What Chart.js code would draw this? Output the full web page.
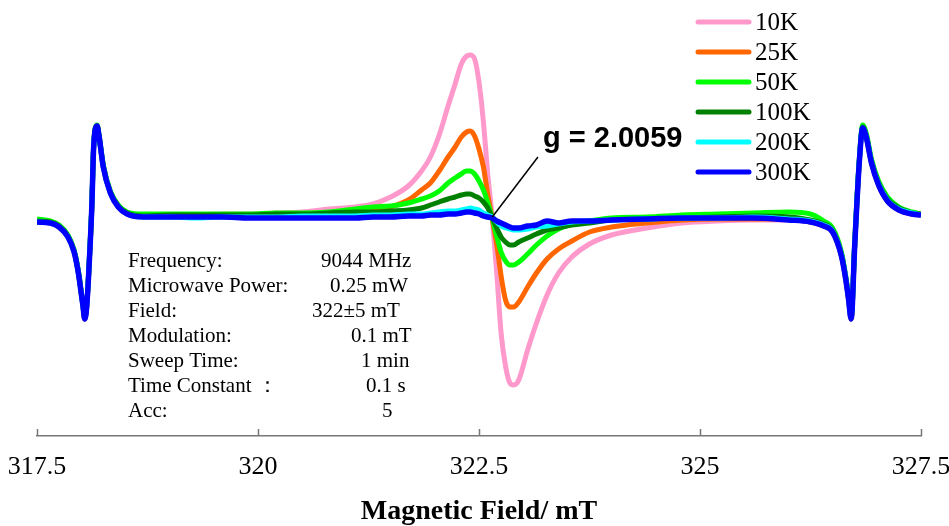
<!DOCTYPE html>
<html>
<head>
<meta charset="utf-8">
<script src="https://cdn.jsdelivr.net/npm/chart.js@4/dist/chart.umd.min.js"></script>
<style>
html,body{margin:0;padding:0;background:#fff;}
#c{display:block;}
</style>
</head>
<body>
<canvas id="c" width="949" height="526"></canvas>
<script>
// Magnetic field grid (mT)
const fieldMT = [317.50,317.65,317.75,317.85,317.92,317.97,318.00,318.02,318.04,318.06,318.08,318.10,318.12,318.14,318.16,318.18,318.20,318.25,318.33,318.42,318.52,318.70,
319.00,319.30,319.60,319.90,320.20,320.50,320.80,321.10,321.30,321.50,
321.70,321.85,321.95,322.05,322.15,322.23,322.30,322.36,322.40,322.45,
322.50,322.55,322.60,322.65,322.70,322.75,322.80,322.85,322.89,322.95,
323.05,323.15,323.27,323.40,323.55,323.75,324.00,324.40,324.80,325.20,
325.60,326.00,
326.25,326.40,326.50,326.60,326.65,326.68,326.71,326.75,326.80,326.84,326.88,326.94,327.02,327.12,327.25,327.40,327.50];

const seriesLabels = ["10K","25K","50K","100K","200K","300K"];

// EPR derivative signal (a.u.)
const s10K = [-5,-6,-10,-20,-35,-57,-76,-89,-102,-92,-65,-30,10,68,88,91,82,50,24,10,3,1,
1,2,3,3,4,5,8,10,13,20,
31,46,60,82,111,133,153,161,162,158,
135,95,42,-1,-55,-116,-149,-166,-168,-163,
-133,-106,-78,-56,-40,-27,-18,-11,-6,-4,
-3,-3,
-5,-9,-15,-39,-63,-82,-102,-29,52,89,80,54,32,16,7,3,2];

const s25K = [-5,-6,-10,-20,-35,-57,-76,-89,-102,-92,-65,-30,10,68,88,91,82,50,24,10,3,1,
2,2,2,2,3,3,4,5,7,10,
17,27,34,46,60,70,80,85,86,81,
68,50,22,-2,-27,-59,-83,-90,-90,-85,
-70,-56,-42,-32,-24,-15,-10,-6,-3,-2,
-2,-2,
-5,-9,-15,-39,-63,-82,-102,-29,52,89,80,54,32,16,7,3,2];

const s50K = [-2,-4,-8,-18,-33,-55,-74,-87,-100,-90,-63,-28,12,70,89,92,83,52,26,12,5,3,
3,3,3,3,4,4,5,8,10,11,
14,18,21,26,34,39,43,46,46,43,
36,27,14,-1,-19,-35,-44,-48,-48,-45,
-37,-28,-19,-12,-7,-4,-1,0,2,3,
4,5,
3,-4,-11,-35,-60,-80,-100,-26,55,92,84,58,36,20,10,5,3];

const s100K = [-4,-5,-9,-19,-34,-56,-75,-88,-101,-91,-64,-29,11,69,89,91,82,51,25,11,4,1,
2,2,2,2,3,3,4,5,5,6,
7,9,12,15,18,20,22,23,23,21,
19,15,9,-1,-11,-20,-25,-28,-28,-25,
-21,-17,-13,-11,-8,-6,-3,-2,-1,0,
1,0,
-3,-7,-13,-37,-61,-80,-100,-27,54,90,82,56,34,18,9,4,3];

const s200K = [-5,-6,-10,-20,-35,-57,-76,-89,-101,-91,-64,-29,11,68,88,90,81,50,24,10,3,0,
0,-1,0,0,0,1,1,1,2,2,
3,3,4,5,6,6,7,8,9,8,
7,4,2,0,-5,-9,-11,-12,-13,-13,
-12,-10,-9,-7,-5,-4,-3,-2,-1,-1,
0,-2,
-4,-8,-14,-38,-62,-81,-101,-28,53,89,81,55,33,17,8,4,2];

const s300K = [-5,-6,-10,-20,-35,-57,-76,-89,-102,-92,-65,-30,10,68,88,91,82,50,24,10,3,0,
0,0,0,-1,-1,-1,-1,-1,0,0,
1,1,2,2,3,3,4,5,5,4,
3,1,0,-1,-4,-6,-8,-10,-11,-11,
-9,-8,-4,-6,-4,-4,-3,-2,-1,-1,
-1,-3,
-5,-9,-15,-39,-63,-82,-102,-29,52,89,80,54,32,16,7,3,2];

const xTicks = [317.5, 320, 322.5, 325, 327.5];

const paramLabels = ["Frequency:", "Microwave Power:", "Field:", "Modulation:", "Sweep Time:", "Time Constant \uFF1A", "Acc:"];
const paramValues = ["9044 MHz", "0.25 mW", "322\u00B15 mT", "0.1 mT", "1 min", "0.1 s", "5"];

const gText = "g = 2.0059";
const gField = 322.65;   // crossing point (mT)

const colors = ["#FF99CC","#FF6600","#00FF00","#008000","#00FFFF","#0000FF"];
const allSeries = [s10K, s25K, s50K, s100K, s200K, s300K];

const datasets = allSeries.map((s, i) => ({
  label: seriesLabels[i],
  data: fieldMT.map((x, k) => ({x: x, y: s[k]})),
  borderColor: colors[i],
  backgroundColor: colors[i],
  borderWidth: i === 5 ? 5.5 : 5,
  pointRadius: 0,
  fill: false,
  cubicInterpolationMode: 'monotone',
  order: 6 - i
}));

const serif = "'Liberation Serif','Times New Roman',serif";

const overlay = {
  id: 'overlay',
  afterDraw(chart) {
    const ctx = chart.ctx;
    const xs = chart.scales.x, ys = chart.scales.y;
    const area = chart.chartArea;
    ctx.save();
    // inward tick marks
    ctx.strokeStyle = '#777';
    ctx.lineWidth = 1.5;
    xTicks.forEach(v => {
      const px = Math.round(xs.getPixelForValue(v)) + 0.5;
      ctx.beginPath();
      ctx.moveTo(px, area.bottom);
      ctx.lineTo(px, area.bottom - 7);
      ctx.stroke();
    });
    // legend
    ctx.font = "25px " + serif;
    ctx.textBaseline = 'middle';
    ctx.textAlign = 'left';
    chart.data.datasets.forEach((ds, i) => {
      const y = 22 + i * 30;
      ctx.strokeStyle = ds.borderColor;
      ctx.lineWidth = 5;
      ctx.lineCap = 'round';
      ctx.beginPath();
      ctx.moveTo(698, y);
      ctx.lineTo(749, y);
      ctx.stroke();
      ctx.fillStyle = '#000';
      ctx.fillText(ds.label, 755, y + 1);
    });
    // g annotation
    const x0 = xs.getPixelForValue(gField), y0 = ys.getPixelForValue(0);
    const x1 = xs.getPixelForValue(323.167), y1 = ys.getPixelForValue(60);
    ctx.strokeStyle = '#000';
    ctx.lineWidth = 1.5;
    ctx.lineCap = 'butt';
    ctx.beginPath();
    ctx.moveTo(x0, y0);
    ctx.lineTo(x1, y1);
    ctx.stroke();
    ctx.fillStyle = '#000';
    ctx.font = "bold 29px 'Liberation Sans', Arial, sans-serif";
    ctx.textBaseline = 'alphabetic';
    ctx.fillText(gText, xs.getPixelForValue(323.224), ys.getPixelForValue(70));
    // parameter block
    ctx.font = "21px " + serif;
    ctx.textBaseline = 'middle';
    const valX = [321, 330, 312, 351, 361, 366, 382];
    paramLabels.forEach((t, i) => {
      const y = 261 + i * 25;
      ctx.fillText(t, 128, y);
      ctx.fillText(paramValues[i], valX[i], y);
    });
    ctx.restore();
  }
};

new Chart(document.getElementById('c'), {
  type: 'line',
  data: { datasets },
  options: {
    responsive: false,
    animation: false,
    layout: { padding: { left: 37, right: 28, top: 0, bottom: 0 } },
    plugins: { legend: { display: false }, tooltip: { enabled: false } },
    scales: {
      x: {
        type: 'linear',
        min: 317.5, max: 327.5,
        afterBuildTicks: (s) => { s.ticks = xTicks.map(v => ({value: v})); },
        afterFit: (s) => { s.paddingLeft = 0; s.paddingRight = 0; s.height = 90; },
        grid: { display: true, drawOnChartArea: false, drawTicks: false },
        border: { display: true, color: '#777', width: 1.5 },
        ticks: {
          padding: 16,
          color: '#000',
          font: { family: serif, size: 26 },
          callback: (v) => String(v),
          maxRotation: 0
        },
        title: {
          display: true,
          text: 'Magnetic Field/ mT',
          color: '#000',
          font: { family: serif, size: 28, weight: 'bold', lineHeight: 1.0 },
          padding: { top: 0, bottom: 0 }
        }
      },
      y: {
        display: false,
        min: -219, max: 217
      }
    }
  },
  plugins: [overlay]
});
</script>
</body>
</html>
